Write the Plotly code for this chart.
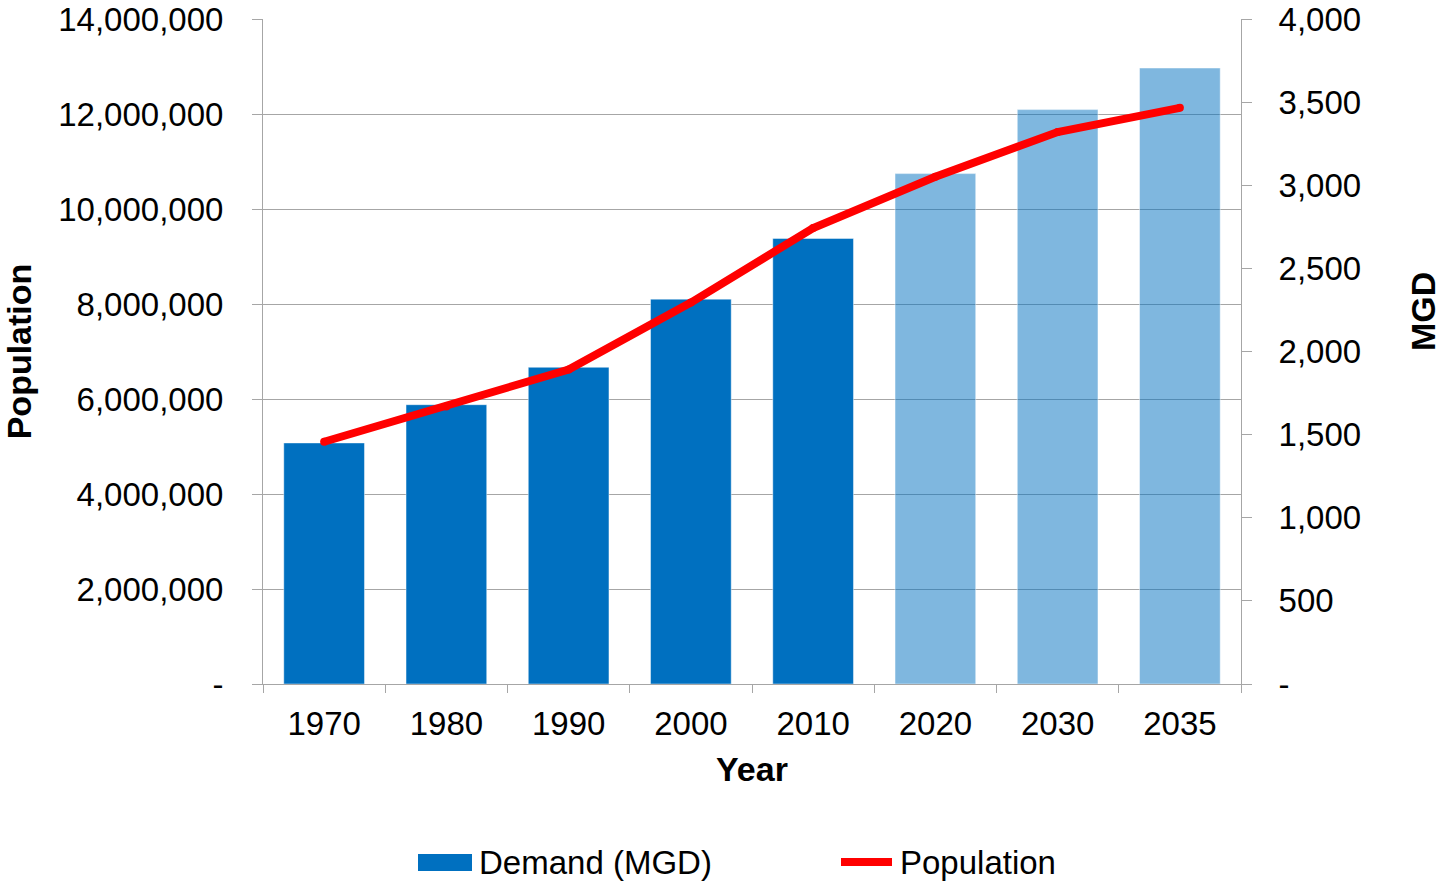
import plotly.graph_objects as go

# Census years and projection years
years = ["1970", "1980", "1990", "2000", "2010", "2020", "2030", "2035"]
first_projected_year = "2020"

# Water demand, million gallons per day
demand_mgd = [1450, 1680, 1905, 2315, 2680, 3070, 3455, 3705]

# Service-area population
population = [5100000, 5840000, 6620000, 8030000, 9600000, 10680000, 11620000, 12130000]

# Axis ticks
pop_tick_values = [0, 2000000, 4000000, 6000000, 8000000, 10000000, 12000000, 14000000]
pop_tick_labels = ["-", "2,000,000", "4,000,000", "6,000,000", "8,000,000",
                   "10,000,000", "12,000,000", "14,000,000"]
mgd_tick_values = [0, 500, 1000, 1500, 2000, 2500, 3000, 3500, 4000]
mgd_tick_labels = ["-", "500", "1,000", "1,500", "2,000", "2,500", "3,000", "3,500", "4,000"]

FONT = "Liberation Sans, Arial, sans-serif"
BLUE = "#0070C0"
BLUE_PROJECTED = "rgba(0,112,192,0.5)"
RED = "#FF0000"
GRID = "#A6A6A6"

proj_index = years.index(first_projected_year)
bar_colors = [BLUE if i < proj_index else BLUE_PROJECTED for i in range(len(years))]

fig = go.Figure()

# Demand bars on the primary (right-hand) axis so the population line sits above them
fig.add_trace(go.Bar(
    x=years, y=demand_mgd, name="Demand (MGD)",
    marker=dict(color=bar_colors, line=dict(color="rgba(255,255,255,0.45)", width=1)),
    yaxis="y", showlegend=False,
))

# Population line on the overlaid left-hand axis
fig.add_trace(go.Scatter(
    x=years, y=population, name="Population", mode="lines+markers",
    line=dict(color=RED, width=8),
    marker=dict(color=RED, size=8),
    yaxis="y2", showlegend=False,
))

tick_font = dict(family=FONT, size=33, color="black")
title_font = dict(family=FONT, size=34, color="black", weight="bold")

fig.update_layout(
    width=1441, height=883,
    margin=dict(l=263, r=200, t=19, b=199, autoexpand=False),
    paper_bgcolor="white", plot_bgcolor="white",
    bargap=0.34,
    font=dict(family=FONT, size=33, color="black"),
    xaxis=dict(
        type="category", showline=True, linecolor=GRID, linewidth=1,
        ticks="outside", tickson="boundaries", ticklen=8, tickcolor=GRID,
        tickfont=tick_font, ticklabelstandoff=10,
        showgrid=False,
        title=dict(text="Year", font=title_font, standoff=16),
    ),
    yaxis=dict(
        side="right", range=[0, 4000],
        tickmode="array", tickvals=mgd_tick_values, ticktext=mgd_tick_labels,
        showgrid=False, zeroline=False,
        showline=True, linecolor=GRID, linewidth=1,
        ticks="outside", ticklen=10, tickcolor=GRID,
        tickfont=tick_font, ticklabelstandoff=20,
    ),
    yaxis2=dict(
        overlaying="y", side="left", range=[0, 14000000],
        tickmode="array", tickvals=pop_tick_values, ticktext=pop_tick_labels,
        showgrid=True, gridcolor=GRID, gridwidth=1, zeroline=False,
        showline=True, linecolor=GRID, linewidth=1,
        ticks="outside", ticklen=10, tickcolor=GRID,
        tickfont=tick_font, ticklabelstandoff=22,
        title=dict(text="Population", font=title_font, standoff=18),
    ),
)


# Paper coordinates from pixel positions on the 1441x883 canvas
def px_x(px):
    return (px - 263) / 978


def px_y(py):
    return (684 - py) / 665


# Right-hand axis title
fig.add_annotation(text="MGD", xref="paper", yref="paper",
                   x=px_x(1423), y=px_y(312), xanchor="center", yanchor="middle",
                   textangle=-90, showarrow=False, font=title_font)

# Legend drawn below the plot area
fig.add_shape(type="rect", xref="paper", yref="paper",
              x0=px_x(418), x1=px_x(472), y0=px_y(871), y1=px_y(854),
              fillcolor=BLUE, line=dict(width=0))
fig.add_shape(type="line", xref="paper", yref="paper",
              x0=px_x(841), x1=px_x(892), y0=px_y(862), y1=px_y(862),
              line=dict(color=RED, width=8))
fig.add_annotation(text="Demand (MGD)", xref="paper", yref="paper",
                   x=px_x(477), y=px_y(862), xanchor="left", yanchor="middle",
                   showarrow=False, font=tick_font)
fig.add_annotation(text="Population", xref="paper", yref="paper",
                   x=px_x(898), y=px_y(862), xanchor="left", yanchor="middle",
                   showarrow=False, font=tick_font)

fig.write_html("out.html")
